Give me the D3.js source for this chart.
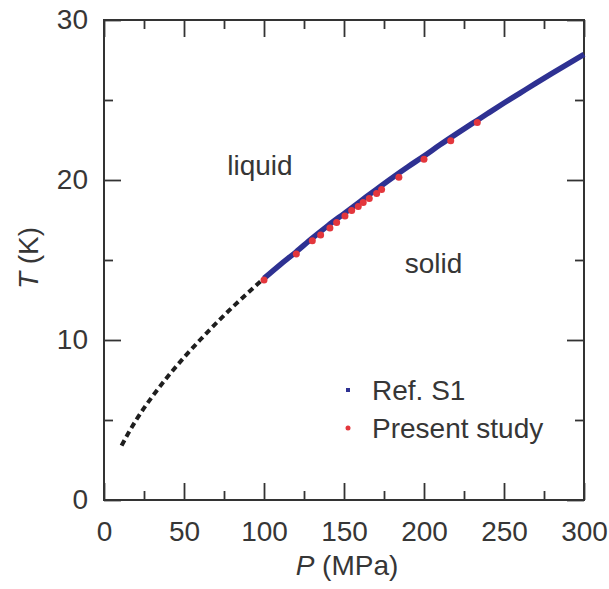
<!DOCTYPE html>
<html>
<head>
<meta charset="utf-8">
<script src="https://cdn.jsdelivr.net/npm/d3@7"></script>
<style>
  html, body { margin: 0; padding: 0; background: #fff; }
  svg { display: block; }
  text { font-family: "Liberation Sans", Arial, Helvetica, sans-serif; fill: #363636; }
</style>
</head>
<body>
<svg id="chart" width="609" height="589"></svg>
<script>
// Melting curve: pressure (MPa) vs temperature (K)

// Reference melting line (Ref. S1), measured range
const refP = [100, 110, 120, 130, 140, 150, 160, 170, 180, 190, 200, 210, 220, 230, 240, 250, 260, 270, 280, 290, 300];
const refT = [13.85, 14.7, 15.5, 16.35, 17.15, 17.9, 18.65, 19.4, 20.13, 20.83, 21.5, 22.2, 22.87, 23.52, 24.17, 24.81, 25.43, 26.05, 26.66, 27.26, 27.85];

// Extrapolated part of the melting line (dashed)
const extP = [11, 15, 20, 30, 40, 50, 60, 70, 80, 90, 100];
const extT = [3.4, 4.14, 4.98, 6.44, 7.73, 8.91, 10.0, 11.04, 12.02, 12.95, 13.85];

// Present study data points
const dataP = [100, 120.2, 130.2, 135.4, 141.2, 145.4, 150.6, 154.8, 158.9, 162, 165.8, 170.4, 173.5, 184.3, 200, 216.7, 233.3];
const dataT = [13.75, 15.38, 16.2, 16.56, 17.0, 17.35, 17.75, 18.1, 18.35, 18.6, 18.85, 19.15, 19.4, 20.17, 21.3, 22.45, 23.6];

// Axis ticks
const xMajor = [0, 50, 100, 150, 200, 250, 300];
const xMinor = [25, 75, 125, 175, 225, 275];
const yMajor = [0, 10, 20, 30];
const yMinor = [5, 15, 25];

const regionLabels = [
  { text: "liquid", P: 77, T: 20.3 },
  { text: "solid", P: 188, T: 14.2 }
];
const legendItems = [
  { label: "Ref. S1", kind: "square", color: "#2e3192" },
  { label: "Present study", kind: "circle", color: "#e3363c" }
];

const svg = d3.select("#chart");
const plotLeft = 104, plotRight = 584, plotTop = 20, plotBottom = 500;
const x = d3.scaleLinear().domain([0, 300]).range([plotLeft, plotRight]);
const y = d3.scaleLinear().domain([0, 30]).range([plotBottom, plotTop]);

const axisColor = "#333";
const majorLen = 17, minorLen = 9;
const fontSize = 28;

function styleAxis(g) {
  g.select(".domain").remove();
  g.selectAll(".tick line").attr("stroke", axisColor).attr("stroke-width", 1.8);
}

// Bottom axis (labelled)
svg.append("g").attr("transform", `translate(0,${plotBottom})`)
  .call(d3.axisBottom(x).tickValues(xMajor).tickSize(-majorLen).tickPadding(21).tickFormat(d3.format("d")))
  .call(styleAxis)
  .call(g => g.selectAll("text").attr("font-size", fontSize).style("fill", "#363636"));
svg.append("g").attr("transform", `translate(0,${plotBottom})`)
  .call(d3.axisBottom(x).tickValues(xMinor).tickSize(-minorLen).tickFormat(""))
  .call(styleAxis);
// Top axis (ticks only)
svg.append("g").attr("transform", `translate(0,${plotTop})`)
  .call(d3.axisTop(x).tickValues(xMajor).tickSize(-majorLen).tickFormat(""))
  .call(styleAxis);
svg.append("g").attr("transform", `translate(0,${plotTop})`)
  .call(d3.axisTop(x).tickValues(xMinor).tickSize(-minorLen).tickFormat(""))
  .call(styleAxis);
// Left axis (labelled)
svg.append("g").attr("transform", `translate(${plotLeft},0)`)
  .call(d3.axisLeft(y).tickValues(yMajor).tickSize(-majorLen).tickPadding(16).tickFormat(d3.format("d")))
  .call(styleAxis)
  .call(g => g.selectAll("text").attr("font-size", fontSize).style("fill", "#363636"));
svg.append("g").attr("transform", `translate(${plotLeft},0)`)
  .call(d3.axisLeft(y).tickValues(yMinor).tickSize(-minorLen).tickFormat(""))
  .call(styleAxis);
// Right axis (ticks only)
svg.append("g").attr("transform", `translate(${plotRight},0)`)
  .call(d3.axisRight(y).tickValues(yMajor).tickSize(-majorLen).tickFormat(""))
  .call(styleAxis);
svg.append("g").attr("transform", `translate(${plotRight},0)`)
  .call(d3.axisRight(y).tickValues(yMinor).tickSize(-minorLen).tickFormat(""))
  .call(styleAxis);

// Frame
svg.append("rect")
  .attr("x", plotLeft).attr("y", plotTop)
  .attr("width", plotRight - plotLeft).attr("height", plotBottom - plotTop)
  .attr("fill", "none").attr("stroke", axisColor).attr("stroke-width", 2);

// Axis titles
const xt = svg.append("text").attr("x", 347).attr("y", 575)
  .attr("text-anchor", "middle").attr("font-size", fontSize);
xt.append("tspan").attr("font-style", "italic").text("P");
xt.append("tspan").text(" (MPa)");

const yt = svg.append("text")
  .attr("transform", `translate(38,${(plotTop + plotBottom) / 2 - 2}) rotate(-90)`)
  .attr("text-anchor", "middle").attr("font-size", fontSize);
yt.append("tspan").attr("font-style", "italic").text("T");
yt.append("tspan").text(" (K)");

// Lines
const line = d3.line().x(d => x(d[0])).y(d => y(d[1])).curve(d3.curveMonotoneX);

svg.append("path")
  .datum(extP.map((p, i) => [p, extT[i]]))
  .attr("d", line)
  .attr("fill", "none").attr("stroke", "#1e1e1e")
  .attr("stroke-width", 4).attr("stroke-dasharray", "6,4");

svg.append("path")
  .datum(refP.map((p, i) => [p, refT[i]]))
  .attr("d", line)
  .attr("fill", "none").attr("stroke", legendItems[0].color)
  .attr("stroke-width", 5.5);

// Data points
svg.append("g").selectAll("circle")
  .data(dataP.map((p, i) => [p, dataT[i]]))
  .join("circle")
  .attr("cx", d => x(d[0])).attr("cy", d => y(d[1]))
  .attr("r", 3.5).attr("fill", legendItems[1].color);

// Region labels
svg.append("g").selectAll("text")
  .data(regionLabels)
  .join("text")
  .attr("x", d => x(d.P)).attr("y", d => y(d.T))
  .attr("font-size", fontSize)
  .text(d => d.text);

// Legend
const lg = svg.append("g").attr("transform", "translate(348,0)");
legendItems.forEach((item, i) => {
  const cy = 390 + i * 38;
  if (item.kind === "square") {
    lg.append("rect").attr("x", -2).attr("y", cy - 2).attr("width", 4).attr("height", 4).attr("fill", item.color);
  } else {
    lg.append("circle").attr("cx", 0).attr("cy", cy).attr("r", 2.5).attr("fill", item.color);
  }
  lg.append("text").attr("x", 24).attr("y", cy + 10).attr("font-size", fontSize).text(item.label);
});
</script>
</body>
</html>
